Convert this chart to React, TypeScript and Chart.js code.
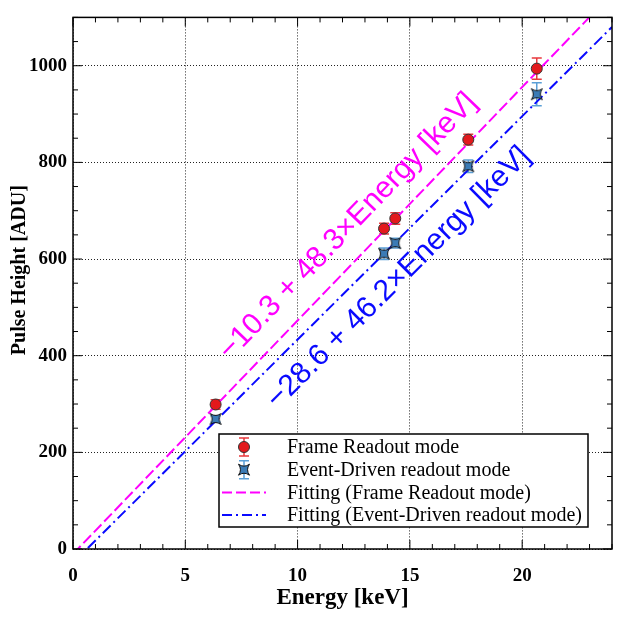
import { useEffect, useRef } from 'react';
import { Chart, registerables, Plugin } from 'chart.js';

Chart.register(...registerables);

// measured points (keV vs ADU)
const energy = [6.35, 13.85, 14.35, 17.6, 20.65];
const frameHeight = [299, 663, 684, 847, 994];
const frameErr = [10, 11, 12, 11, 22];
const eventHeight = [269, 611, 633, 792, 941];
const eventErr = [6, 12, 10, 13, 24];

// linear fits: [intercept, slope]
const fitFrame = [-10.3, 48.3];
const fitEvent = [-28.6, 46.2];
const fitLabels = ['\u221210.3 + 48.3\u00d7Energy [keV]', '\u221228.6 + 46.2\u00d7Energy [keV]'];
const fitLabelAt = [
  [12.25, 667],
  [14.5, 561],
];

const xTicks = [0, 5, 10, 15, 20];
const yTicks = [0, 200, 400, 600, 800, 1000];

const legendLabels = [
  'Frame Readout mode',
  'Event-Driven readout mode',
  'Fitting (Frame Readout mode)',
  'Fitting (Event-Driven readout mode)',
];

const RED = '#e3191c';
const RED_ERR = '#e8383d';
const BLUE_PT = '#3b7bb5';
const BLUE_ERR = '#5b9fd6';
const MAGENTA = '#ff00ff';
const BLUE = '#0a0aff';
const SERIF = '"Liberation Serif", "Times New Roman", serif';

function drawStar(g: CanvasRenderingContext2D, cx: number, cy: number, r: number) {
  const k = 1.6;
  g.beginPath();
  g.moveTo(cx - r, cy - r);
  g.quadraticCurveTo(cx, cy - k, cx + r, cy - r);
  g.quadraticCurveTo(cx + k, cy, cx + r, cy + r);
  g.quadraticCurveTo(cx, cy + k, cx - r, cy + r);
  g.quadraticCurveTo(cx - k, cy, cx - r, cy - r);
  g.closePath();
  g.fillStyle = BLUE_PT;
  g.fill();
  g.strokeStyle = '#111';
  g.lineWidth = 1;
  g.stroke();
}

function makeStar(): HTMLCanvasElement {
  const c = document.createElement('canvas');
  c.width = 14;
  c.height = 14;
  const g = c.getContext('2d')!;
  drawStar(g, 7, 7, 5.5);
  return c;
}

function errBar(ctx: CanvasRenderingContext2D, px: number, top: number, bot: number, color: string) {
  ctx.strokeStyle = color;
  ctx.lineWidth = 1.5;
  ctx.setLineDash([]);
  ctx.beginPath();
  ctx.moveTo(px, top);
  ctx.lineTo(px, bot);
  ctx.moveTo(px - 5, top);
  ctx.lineTo(px + 5, top);
  ctx.moveTo(px - 5, bot);
  ctx.lineTo(px + 5, bot);
  ctx.stroke();
}

const decor: Plugin<'scatter'> = {
  id: 'decor',
  beforeDatasetsDraw(chart) {
    const { ctx } = chart;
    const x = chart.scales.x;
    const y = chart.scales.y;
    ctx.save();
    energy.forEach((e, i) => {
      const px = x.getPixelForValue(e);
      errBar(ctx, px, y.getPixelForValue(frameHeight[i] + frameErr[i]), y.getPixelForValue(frameHeight[i] - frameErr[i]), RED_ERR);
      errBar(ctx, px, y.getPixelForValue(eventHeight[i] + eventErr[i]), y.getPixelForValue(eventHeight[i] - eventErr[i]), BLUE_ERR);
    });
    ctx.restore();
  },
  afterDraw(chart) {
    const { ctx, chartArea: a } = chart;
    const x = chart.scales.x;
    const y = chart.scales.y;
    ctx.save();

    // inner ticks on all four sides
    ctx.strokeStyle = '#000';
    ctx.lineWidth = 1;
    ctx.beginPath();
    for (let v = 0; v <= 24; v++) {
      const len = v % 5 === 0 ? 9 : 5;
      const px = x.getPixelForValue(v);
      ctx.moveTo(px, a.bottom);
      ctx.lineTo(px, a.bottom - len);
      ctx.moveTo(px, a.top);
      ctx.lineTo(px, a.top + len);
    }
    for (let v = 0; v <= 1100; v += 50) {
      const len = v % 200 === 0 ? 9 : 5;
      const py = y.getPixelForValue(v);
      ctx.moveTo(a.left, py);
      ctx.lineTo(a.left + len, py);
      ctx.moveTo(a.right, py);
      ctx.lineTo(a.right - len, py);
    }
    ctx.stroke();
    ctx.lineWidth = 1.5;
    ctx.strokeRect(a.left, a.top, a.right - a.left, a.bottom - a.top);

    // y title
    ctx.save();
    ctx.translate(20, (a.top + a.bottom) / 2 - 13);
    ctx.rotate(-Math.PI / 2);
    ctx.fillStyle = '#000';
    ctx.font = `bold 20px ${SERIF}`;
    ctx.textAlign = 'center';
    ctx.textBaseline = 'middle';
    ctx.fillText('Pulse Height [ADU]', 0, 0);
    ctx.restore();

    // fit labels along the lines
    [fitFrame, fitEvent].forEach((f, i) => {
      const dx = x.getPixelForValue(20) - x.getPixelForValue(10);
      const dy = y.getPixelForValue(f[0] + f[1] * 20) - y.getPixelForValue(f[0] + f[1] * 10);
      ctx.save();
      ctx.translate(x.getPixelForValue(fitLabelAt[i][0]), y.getPixelForValue(fitLabelAt[i][1]));
      ctx.rotate(Math.atan2(dy, dx));
      ctx.fillStyle = i === 0 ? MAGENTA : BLUE;
      ctx.font = '30px "Liberation Sans", Arial, sans-serif';
      ctx.textAlign = 'center';
      ctx.textBaseline = 'middle';
      ctx.fillText(fitLabels[i], 0, 0);
      ctx.restore();
    });

    // legend box
    const bw = 369;
    const bh = 93;
    const bx = a.right - 24 - bw;
    const by = a.bottom - 22 - bh;
    ctx.fillStyle = '#fff';
    ctx.fillRect(bx, by, bw, bh);
    ctx.strokeStyle = '#000';
    ctx.lineWidth = 1.5;
    ctx.strokeRect(bx, by, bw, bh);
    const sx = bx + 25;
    legendLabels.forEach((label, i) => {
      const cy = by + 13 + i * 22.7;
      if (i === 0) {
        errBar(ctx, sx, cy - 9, cy + 9, RED_ERR);
        ctx.beginPath();
        ctx.arc(sx, cy, 5.5, 0, Math.PI * 2);
        ctx.fillStyle = RED;
        ctx.fill();
        ctx.strokeStyle = '#333';
        ctx.lineWidth = 1;
        ctx.stroke();
      } else if (i === 1) {
        errBar(ctx, sx, cy - 9, cy + 9, BLUE_ERR);
        drawStar(ctx, sx, cy, 5.5);
      } else {
        ctx.strokeStyle = i === 2 ? MAGENTA : BLUE;
        ctx.lineWidth = 2;
        ctx.setLineDash(i === 2 ? [10, 4] : [10, 4, 2, 4]);
        ctx.beginPath();
        ctx.moveTo(bx + 3, cy);
        ctx.lineTo(bx + 47, cy);
        ctx.stroke();
        ctx.setLineDash([]);
      }
      ctx.fillStyle = '#000';
      ctx.font = `20px ${SERIF}`;
      ctx.textAlign = 'left';
      ctx.textBaseline = 'middle';
      ctx.fillText(label, bx + 68, cy + 1);
    });

    ctx.restore();
  },
};

const App = () => {
  const chartRef = useRef<HTMLCanvasElement | null>(null);
  const chartInstance = useRef<Chart | null>(null);

  useEffect(() => {
    if (!chartRef.current) return;
    if (chartInstance.current) chartInstance.current.destroy();

    const tickFont = { family: SERIF, size: 19, weight: 'bold' as const };
    const star = makeStar();

    chartInstance.current = new Chart(chartRef.current, {
      type: 'scatter',
      data: {
        datasets: [
          {
            label: legendLabels[0],
            data: energy.map((e, i) => ({ x: e, y: frameHeight[i] })),
            pointStyle: 'circle',
            pointRadius: 5.5,
            backgroundColor: RED,
            borderColor: '#333',
            borderWidth: 1,
          },
          {
            label: legendLabels[1],
            data: energy.map((e, i) => ({ x: e, y: eventHeight[i] })),
            pointStyle: star,
          },
          {
            label: legendLabels[2],
            data: [0, 24].map((e) => ({ x: e, y: fitFrame[0] + fitFrame[1] * e })),
            showLine: true,
            pointRadius: 0,
            borderColor: MAGENTA,
            borderWidth: 2,
            borderDash: [11, 4],
          },
          {
            label: legendLabels[3],
            data: [0, 24].map((e) => ({ x: e, y: fitEvent[0] + fitEvent[1] * e })),
            showLine: true,
            pointRadius: 0,
            borderColor: BLUE,
            borderWidth: 2,
            borderDash: [11, 4, 2, 4],
          },
        ],
      },
      options: {
        animation: false,
        responsive: true,
        maintainAspectRatio: false,
        layout: { padding: { left: 0, top: 12, right: 11, bottom: 0 } },
        plugins: {
          legend: { display: false },
          tooltip: { enabled: false },
        },
        scales: {
          x: {
            type: 'linear',
            min: 0,
            max: 24,
            afterBuildTicks: (s) => {
              s.ticks = xTicks.map((v) => ({ value: v }));
            },
            afterFit: (s) => {
              s.height = 74;
            },
            grid: { color: '#222', lineWidth: 1, drawTicks: false },
            border: { display: false, dash: [1, 2] },
            ticks: { padding: 16, color: '#000', font: tickFont, callback: (v) => String(v) },
            title: {
              display: true,
              text: 'Energy [keV]',
              color: '#000',
              font: { family: SERIF, size: 23, weight: 'bold' },
              padding: { top: 0, bottom: 11 },
            },
          },
          y: {
            type: 'linear',
            min: 0,
            max: 1100,
            afterBuildTicks: (s) => {
              s.ticks = yTicks.map((v) => ({ value: v }));
            },
            afterFit: (s) => {
              s.width = 73;
            },
            grid: { color: '#222', lineWidth: 1, drawTicks: false },
            border: { display: false, dash: [1, 2] },
            ticks: { padding: 6, color: '#000', font: tickFont, callback: (v) => String(v) },
          },
        },
      },
      plugins: [decor],
    });

    return () => {
      if (chartInstance.current) {
        chartInstance.current.destroy();
        chartInstance.current = null;
      }
    };
  }, []);

  return (
    <div style={{ position: 'absolute', left: 0, top: 0, width: 623, height: 623, background: '#fff' }}>
      <canvas ref={chartRef}></canvas>
    </div>
  );
};

export default App;
